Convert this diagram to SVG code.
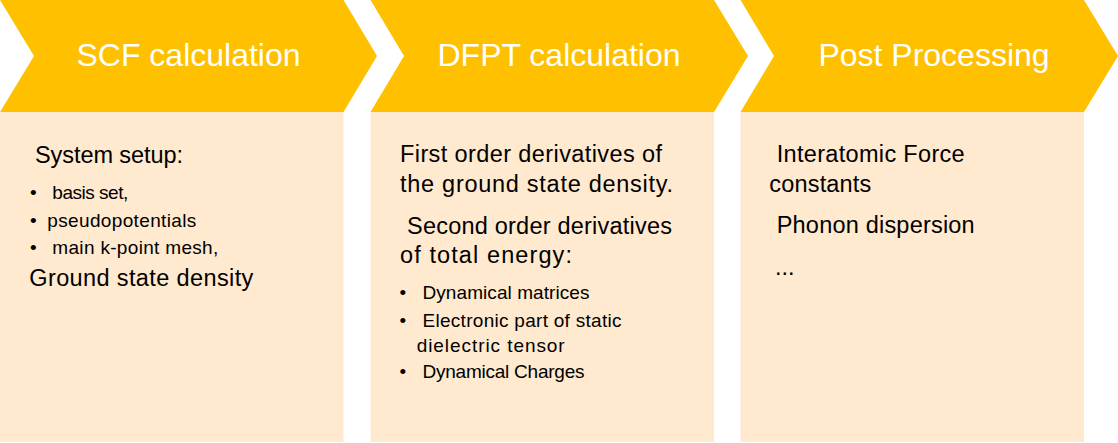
<svg xmlns="http://www.w3.org/2000/svg" width="1118" height="443" viewBox="0 0 1118 443">
<style>
.chev{fill:#FFC000}
.box{fill:#FFE9CF}
.title{font-family:"Liberation Sans",Arial,sans-serif;font-size:32px;fill:#FFFFFF;text-anchor:middle}
.big{font-family:"Liberation Sans",Arial,sans-serif;font-size:23.5px;fill:#000000}
.small{font-family:"Liberation Sans",Arial,sans-serif;font-size:19px;fill:#000000}
</style>
<rect width="1118" height="443" fill="#FFFFFF"/>
<g id="scf">
<rect class="box" x="0" y="112" width="343.5" height="330"/>
<polygon class="chev" points="0,0 343.5,0 377,56 343.5,112 0,112 34,56"/>
<text class="title" x="188.5" y="66">SCF calculation</text>
<text class="big" x="35" y="162.5" textLength="148">System setup:</text>
<text class="small" x="30" y="199.3">•</text>
<text class="small" x="52.3" y="199.3" textLength="76">basis set,</text>
<text class="small" x="30" y="226.7">•</text>
<text class="small" x="47.3" y="226.7" textLength="149">pseudopotentials</text>
<text class="small" x="30" y="254.3">•</text>
<text class="small" x="52.3" y="254.3" textLength="166">main k-point mesh,</text>
<text class="big" x="29.3" y="286" textLength="224">Ground state density</text>
</g>
<g id="dfpt">
<rect class="box" x="370.5" y="112" width="343.5" height="330"/>
<polygon class="chev" points="370.5,0 714,0 748,56 714,112 370.5,112 404,56"/>
<text class="title" x="559" y="66">DFPT calculation</text>
<text class="big" x="400" y="162.3" textLength="262">First order derivatives of</text>
<text class="big" x="400" y="191.7" textLength="273">the ground state density.</text>
<text class="big" x="407" y="234" textLength="265">Second order derivatives</text>
<text class="big" x="400" y="262.7" textLength="172">of total energy:</text>
<text class="small" x="399.5" y="299.3">•</text>
<text class="small" x="422.5" y="299.3" textLength="167">Dynamical matrices</text>
<text class="small" x="399.5" y="326.7">•</text>
<text class="small" x="422.5" y="326.7" textLength="199">Electronic part of static</text>
<text class="small" x="416.7" y="351.7" textLength="148">dielectric tensor</text>
<text class="small" x="399.5" y="378.3">•</text>
<text class="small" x="422.5" y="378.3" textLength="162">Dynamical Charges</text>
</g>
<g id="post">
<rect class="box" x="740.5" y="112" width="343.5" height="330"/>
<polygon class="chev" points="740.5,0 1084,0 1118,56 1084,112 740.5,112 774,56"/>
<text class="title" x="934" y="66">Post Processing</text>
<text class="big" x="776.7" y="162.3" textLength="188">Interatomic Force</text>
<text class="big" x="769.3" y="192.3" textLength="102">constants</text>
<text class="big" x="776.7" y="232.7" textLength="198">Phonon dispersion</text>
<text class="big" x="775" y="275">...</text>
</g>
<g id="connectors"></g>
</svg>
